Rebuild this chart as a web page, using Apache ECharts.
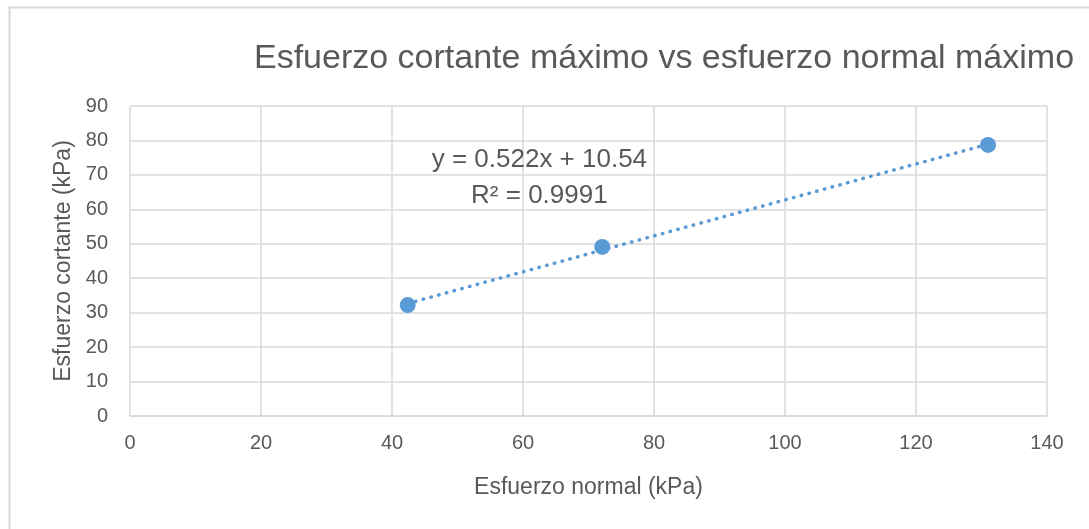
<!DOCTYPE html>
<html><head><meta charset="utf-8">
<script src="https://cdn.jsdelivr.net/npm/echarts@6/dist/echarts.min.js"></script>
<style>html,body{margin:0;padding:0;background:#fff}#c{width:1089px;height:529px}</style>
</head><body><div id="c"></div>
<script>
var xValues = [42.4, 72.1, 131.0];
var yValues = [32.2, 49.1, 78.7];
var xTicks = [0, 20, 40, 60, 80, 100, 120, 140];
var yTicks = [0, 10, 20, 30, 40, 50, 60, 70, 80, 90];
var slope = 0.522, intercept = 10.54;
var eqText = 'y = 0.522x + 10.54';
var r2Text = 'R² = 0.9991';

var pts = xValues.map(function(x, i){ return [x, yValues[i]]; });
var xMin = Math.min.apply(null, xValues), xMax = Math.max.apply(null, xValues);
var trend = [[xMin, slope*xMin+intercept], [xMax, slope*xMax+intercept]];
var font = '"Liberation Sans", "DejaVu Sans", sans-serif';
var chart = echarts.init(document.getElementById('c'));
chart.setOption({
  animation: false,
  backgroundColor: '#fff',
  textStyle: {fontFamily: font},
  title: {text: 'Esfuerzo cortante máximo vs esfuerzo normal máximo', left: 249, top: 37,
    textStyle: {fontFamily: font, fontSize: 34, fontWeight: 'normal', color: '#595959'}},
  graphic: [
    {type: 'polyline', shape: {points: [[9.5, 529], [9.5, 7.5], [1089, 7.5]]}, style: {stroke: '#d9d9d9', lineWidth: 2, fill: null}}
  ],
  grid: {left: 130, right: 42, top: 106, bottom: 113},
  xAxis: {type: 'value', min: 0, max: 140, interval: 20,
    name: 'Esfuerzo normal (kPa)', nameLocation: 'middle', nameGap: 60,
    nameTextStyle: {fontSize: 23, color: '#595959', fontFamily: font},
    axisLine: {show: true, lineStyle: {color: '#d9d9d9', width: 1.5}}, axisTick: {show: false},
    axisLabel: {fontSize: 20, color: '#595959', margin: 17, fontFamily: font,
      formatter: function(v){ return xTicks.indexOf(v) >= 0 ? String(v) : ''; }},
    splitLine: {show: true, lineStyle: {color: '#d9d9d9', width: 1.5}}},
  yAxis: {type: 'value', min: 0, max: 90, interval: 10,
    name: 'Esfuerzo cortante (kPa)', nameLocation: 'middle', nameGap: 55, nameRotate: 90,
    nameTextStyle: {fontSize: 23, color: '#595959', fontFamily: font},
    axisLine: {show: false}, axisTick: {show: false},
    axisLabel: {fontSize: 20, color: '#595959', margin: 22, fontFamily: font,
      formatter: function(v){ return yTicks.indexOf(v) >= 0 ? String(v) : ''; }},
    splitLine: {show: true, lineStyle: {color: '#d9d9d9', width: 1.5}}},
  series: [
    {type: 'line', data: trend, symbol: 'none', silent: true,
      lineStyle: {color: '#5b9bd5', width: 3.5, type: [0.5, 7.5], cap: 'round'}, z: 2,
      markPoint: {symbol: 'rect', symbolSize: 0, silent: true,
        data: [
          {coord: [62.5, 74.3], label: {show: true, formatter: eqText, fontSize: 26, color: '#595959', fontFamily: font}},
          {coord: [62.5, 64.0], label: {show: true, formatter: r2Text, fontSize: 26, color: '#595959', fontFamily: font}}
        ]}},
    {type: 'scatter', data: pts, symbol: 'circle', symbolSize: 16,
      itemStyle: {color: '#5b9bd5', opacity: 1}, z: 3}
  ]
});
</script></body></html>
